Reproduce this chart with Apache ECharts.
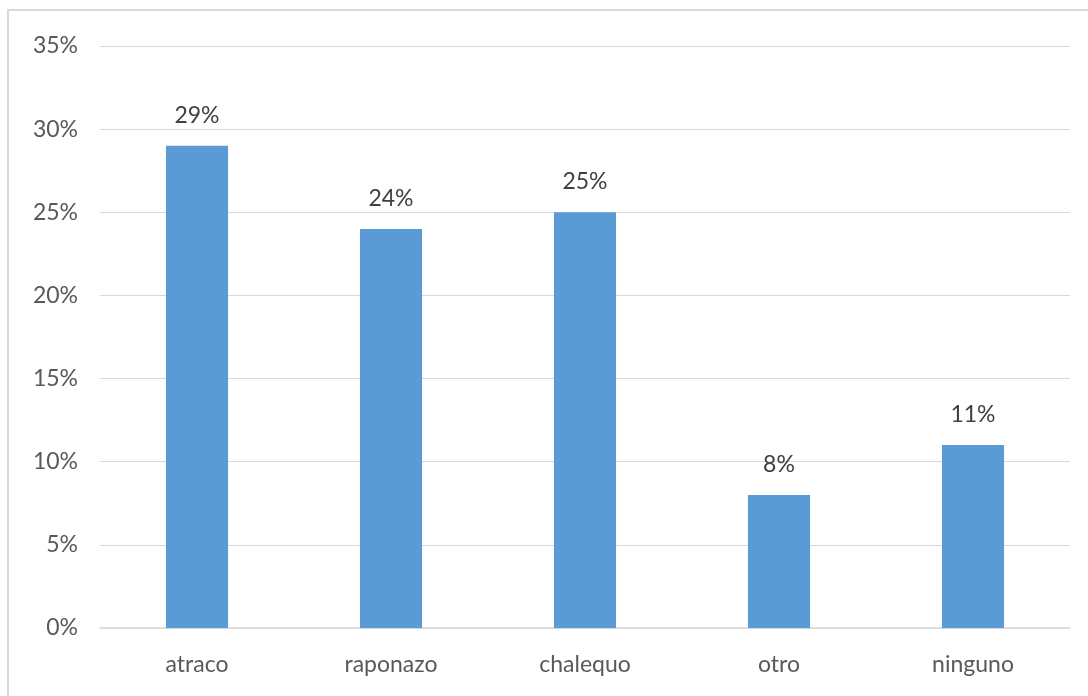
<!DOCTYPE html>
<html>
<head>
<meta charset="utf-8">
<script src="https://cdn.jsdelivr.net/npm/echarts@6/dist/echarts.min.js"></script>
<style>
html,body{margin:0;padding:0;background:#fff;overflow:hidden;}
#frame{position:absolute;left:7px;top:9px;width:1090px;height:700px;border:2px solid #d9d9d9;box-sizing:border-box;}
#chart{position:absolute;left:0;top:0;width:1088px;height:696px;}
</style>
</head>
<body>
<div id="frame"></div>
<div id="chart"></div>
<script>
const categories = ['atraco', 'raponazo', 'chalequo', 'otro', 'ninguno'];
const values = [29, 24, 25, 8, 11];
const yTicks = [0, 5, 10, 15, 20, 25, 30, 35];

const chart = echarts.init(document.getElementById('chart'));
const font = 'Lato, "Open Sans", "Liberation Sans", sans-serif';
chart.setOption({
  animation: false,
  grid: { left: 100, right: 18, top: 46, bottom: 68, containLabel: false },
  xAxis: {
    type: 'category',
    data: categories,
    axisLine: { show: true, lineStyle: { color: '#d9d9d9', width: 1.5 } },
    axisTick: { show: false },
    axisLabel: { color: '#595959', fontSize: 23, fontFamily: font, margin: 25 }
  },
  yAxis: {
    type: 'value',
    min: yTicks[0],
    max: yTicks[yTicks.length - 1],
    interval: 5,
    axisLine: { show: false },
    axisTick: { show: false },
    splitLine: { lineStyle: { color: '#d9d9d9', width: 1.2 } },
    axisLabel: { color: '#595959', fontSize: 23, fontFamily: font, margin: 22, formatter: v => v + '%' }
  },
  series: [{
    type: 'bar',
    data: values,
    barWidth: '32%',
    itemStyle: { color: '#5b9bd5' },
    label: {
      show: true,
      position: 'top',
      distance: 19,
      color: '#404040',
      fontSize: 23,
      fontFamily: font,
      formatter: p => p.value + '%'
    }
  }]
});
</script>
</body>
</html>
